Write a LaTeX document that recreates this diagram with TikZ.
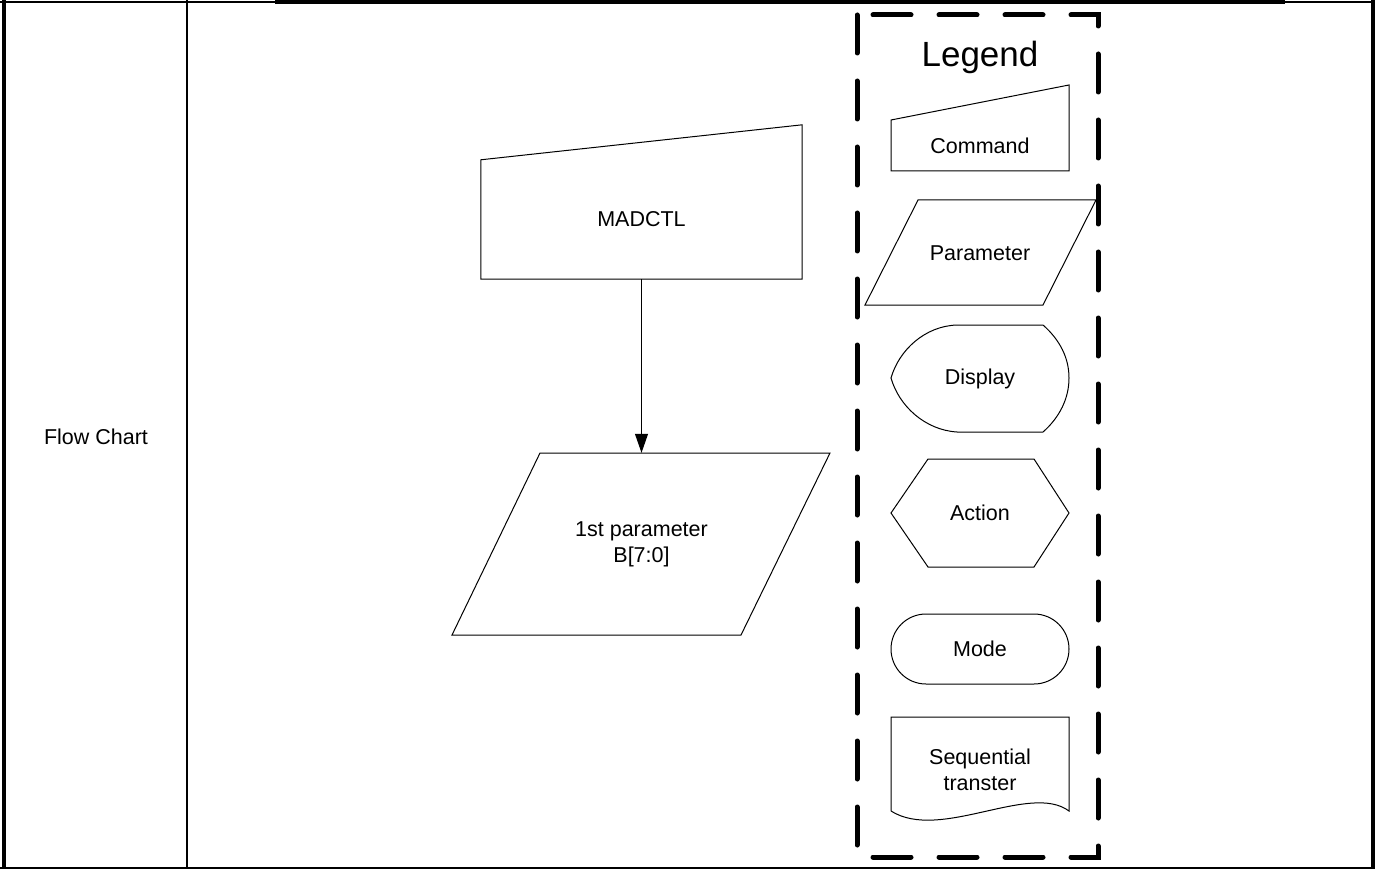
\documentclass[tikz,border=0pt]{standalone}
\usepackage{fontspec}
\setmainfont{Liberation Sans}
\usetikzlibrary{arrows.meta,positioning,calc}
\tikzset{
  shapeline/.style={draw=black,line width=1pt},
  lbl/.style={font=\fontsize{21.5}{26}\selectfont,align=center,inner sep=0pt},
  legendbox/.style={draw=black,line width=5pt,line cap=round,dash pattern=on 38pt off 28pt},
  flow/.style={-{Triangle[length=19pt,width=13pt]},line width=1pt},
}

\begin{document}
\begin{tikzpicture}[x=1pt,y=-1pt]
    \useasboundingbox (0,0) rectangle (1379,869);
    \fill[white] (0,0) rectangle (1379,869);

    % table frame
    \draw[line width=2pt] (0,2.5) -- (275,2.5);
    \draw[line width=4.5pt] (275,2.25) -- (1285,2.25);
    \draw[line width=2pt] (1285,2.5) -- (1373,2.5);
    \draw[line width=4pt] (4,0) -- (4,869);
    \draw[line width=2.5pt] (187,0) -- (187,869);
    \draw[line width=2pt] (0,867.5) -- (1375,867.5);
    \draw[line width=4pt] (1373,0) -- (1373,869);

    \node[lbl] (rowname) at (96,437) {Flow Chart};

    % flow
    \node[lbl,minimum width=321pt,minimum height=119pt] (madctl) at (641.5,219.5) {MADCTL};
    \draw[shapeline] (madctl.south west) -- (madctl.north west)
      -- ($(madctl.north east)+(0,-35)$) -- (madctl.south east) -- cycle;

    \node[lbl,minimum height=182pt] (param) at (641.5,544) {1st parameter\\B[7:0]};
    \draw[shapeline] (540,453) -- (830,453) -- (741,635) -- (452,635) -- cycle;

    \draw[flow] (madctl.south) -- (param.north);

    % legend
    \draw[legendbox] (857,15) rectangle (1098,857);
    \node[font=\fontsize{35}{40}\selectfont,inner sep=0pt] (legend) at (980,57) {Legend};

    \node[lbl] (cmd) at (980,146) {Command};
    \draw[shapeline] (891,171) -- (891,120) -- (1069,85) -- (1069,171) -- cycle;

    \node[lbl] (par) at (980,253) {Parameter};
    \draw[shapeline] (918,200) -- (1096,200) -- (1043,305) -- (865,305) -- cycle;

    \node[lbl] (disp) at (980,379) {Display};
    \draw[shapeline] (957,325) -- (1043,325)
      .. controls (1060,340) and (1069,358) .. (1069,378)
      .. controls (1069,398) and (1060,417) .. (1043,432)
      -- (957,432)
      .. controls (925,430) and (899,406) .. (891,378)
      .. controls (899,350) and (925,326) .. (957,325);

    \node[lbl] (act) at (980,513) {Action};
    \draw[shapeline] (891,513) -- (928,459) -- (1034,459) -- (1069,513)
      -- (1034,567) -- (928,567) -- cycle;

    \node[lbl] (mode) at (980,649) {Mode};
    \draw[shapeline,rounded corners=35pt] (891,614) rectangle (1069,684);

    \node[lbl] (seq) at (980,770) {Sequential\\transter};
    \draw[shapeline] (891,811) -- (891,717) -- (1069,717) -- (1069,811)
      .. controls (1030,782) and (940,842) .. (891,811);
  \end{tikzpicture}
\end{document}
